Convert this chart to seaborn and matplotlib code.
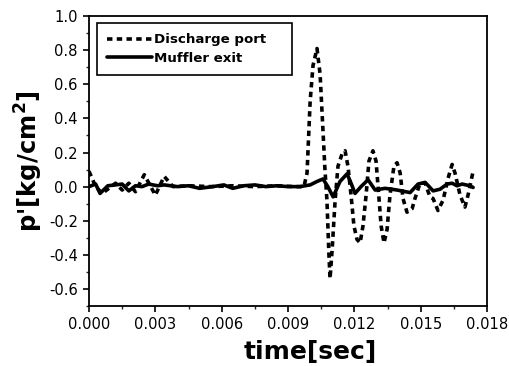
import numpy as np
import pandas as pd
import seaborn as sns
import matplotlib
matplotlib.use("Agg")
import matplotlib.pyplot as plt
from matplotlib.ticker import MultipleLocator

# ---- data ----
discharge_t = [0.00000, 0.00030, 0.00060, 0.00090, 0.00120, 0.00150, 0.00180, 0.00210,
               0.00250, 0.00300, 0.00340, 0.00380, 0.00450, 0.00550, 0.00650, 0.00750,
               0.00850, 0.00930, 0.00972, 0.00986, 0.01000, 0.01013, 0.01031, 0.01045,
               0.01058, 0.01067, 0.01076, 0.01085, 0.01090, 0.01099, 0.01113, 0.01126,
               0.01144, 0.01158, 0.01171, 0.01185, 0.01198, 0.01212, 0.01226, 0.01239,
               0.01253, 0.01266, 0.01284, 0.01298, 0.01312, 0.01321, 0.01334, 0.01348,
               0.01361, 0.01379, 0.01393, 0.01407, 0.01420, 0.01438, 0.01461, 0.01474,
               0.01497, 0.01520, 0.01542, 0.01556, 0.01578, 0.01601, 0.01624, 0.01642,
               0.01655, 0.01678, 0.01700, 0.01714, 0.01737]
discharge_p = [0.09, 0.00, -0.04, -0.01, 0.02, -0.02, 0.02, -0.03,
               0.07, -0.05, 0.06, 0.00, 0.005, 0.00, 0.005, 0.00,
               0.005, 0.00, 0.00, 0.08, 0.50, 0.71, 0.81, 0.66,
               0.33, 0.10, -0.08, -0.40, -0.54, -0.38, -0.08, 0.12,
               0.19, 0.21, 0.12, -0.05, -0.23, -0.31, -0.33, -0.23,
               -0.05, 0.15, 0.21, 0.15, -0.08, -0.23, -0.33, -0.25,
               -0.05, 0.12, 0.14, 0.08, -0.07, -0.15, -0.13, -0.07,
               0.02, 0.02, -0.06, -0.07, -0.14, -0.08, 0.05, 0.13,
               0.08, -0.05, -0.12, -0.05, 0.09]

muffler_t = [0.00000, 0.00030, 0.00050, 0.00085, 0.00120, 0.00150, 0.00180, 0.00210,
             0.00240, 0.00270, 0.00310, 0.00340, 0.00400, 0.00450, 0.00500, 0.00560,
             0.00610, 0.00650, 0.00700, 0.00750, 0.00800, 0.00850, 0.00900, 0.00954,
             0.01000, 0.01031, 0.01058, 0.01080, 0.01104, 0.01135, 0.01167, 0.01185,
             0.01203, 0.01230, 0.01262, 0.01294, 0.01339, 0.01393, 0.01452, 0.01488,
             0.01520, 0.01556, 0.01588, 0.01619, 0.01642, 0.01664, 0.01687, 0.01723,
             0.01737]
muffler_p = [0.00, 0.015, -0.04, 0.005, 0.01, 0.015, -0.025, 0.005,
             0.00, 0.015, 0.005, 0.01, 0.00, 0.005, -0.01, 0.00,
             0.01, -0.01, 0.005, 0.01, 0.00, 0.005, 0.00, 0.00,
             0.01, 0.03, 0.045, 0.00, -0.06, 0.03, 0.075, 0.02,
             -0.04, 0.00, 0.04, -0.02, -0.01, -0.02, -0.035, 0.015,
             0.025, -0.025, -0.015, 0.015, 0.02, 0.005, 0.015, 0.005,
             -0.005]

x_ticks = [0.000, 0.003, 0.006, 0.009, 0.012, 0.015, 0.018]
y_ticks = [-0.6, -0.4, -0.2, 0.0, 0.2, 0.4, 0.6, 0.8, 1.0]

df_d = pd.DataFrame({"t": discharge_t, "p": discharge_p})
df_m = pd.DataFrame({"t": muffler_t, "p": muffler_p})

sns.set_style("ticks")
plt.rcParams["font.family"] = ["DejaVu Sans"]
plt.rcParams["text.color"] = "black"
plt.rcParams["axes.labelcolor"] = "black"

fig = plt.figure(figsize=(5.10, 3.66), dpi=100)
ax = fig.add_axes([0.1745, 0.164, 0.7805, 0.792])

sns.lineplot(data=df_d, x="t", y="p", ax=ax, color="black", lw=2.6,
             linestyle=(0, (1.5, 1.2)), label="Discharge port", sort=False)
sns.lineplot(data=df_m, x="t", y="p", ax=ax, color="black", lw=2.6,
             label="Muffler exit", sort=False)

ax.set_xlim(0.0, 0.018)
ax.set_ylim(-0.7, 1.0)
ax.set_xticks(x_ticks)
ax.set_xticklabels([f"{v:.3f}" for v in x_ticks])
ax.set_yticks(y_ticks)
ax.set_yticklabels([f"{v:.1f}" for v in y_ticks])
ax.xaxis.set_minor_locator(MultipleLocator(0.0015))
ax.yaxis.set_minor_locator(MultipleLocator(0.1))
ax.tick_params(axis="both", which="major", direction="out", length=4, width=1.2,
               labelsize=10.6, colors="black", pad=4)
ax.tick_params(axis="both", which="minor", direction="out", length=2.5, width=1)

for s in ax.spines.values():
    s.set_visible(True)
    s.set_linewidth(1.3)
    s.set_color("black")

ax.set_xlabel("time[sec]", fontsize=18, fontweight="bold", labelpad=6, color="black")
ax.xaxis.label.set_x(0.555)
ax.set_ylabel("p'[kg/cm$^\\mathbf{2}$]", fontsize=17.5, fontweight="bold", labelpad=3,
              color="black")

leg = ax.legend(loc="upper left", bbox_to_anchor=(0.02, 0.975, 0.49, 0.0),
                mode="expand", frameon=True,
                fancybox=False, edgecolor="black", handlelength=3.4,
                handletextpad=0.15, borderpad=0.75, labelspacing=0.4,
                borderaxespad=0.0,
                prop={"weight": "bold", "size": 9.6})
leg.get_frame().set_linewidth(1.2)
leg.get_frame().set_alpha(1)
for t in leg.get_texts():
    t.set_color("black")

fig.savefig("out.png", dpi=100)
